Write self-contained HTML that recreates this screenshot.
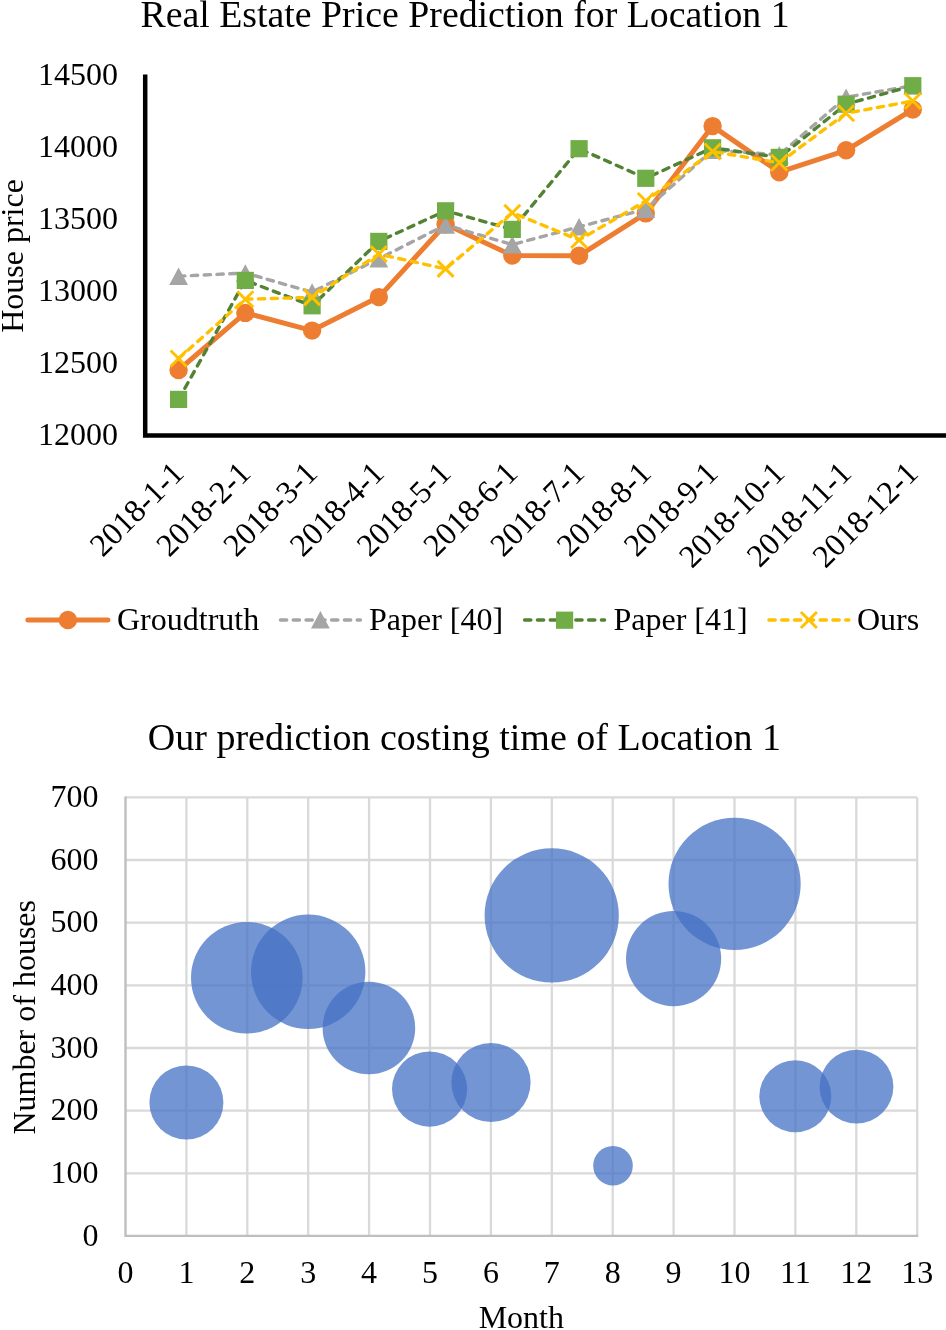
<!DOCTYPE html>
<html lang="en"><head><meta charset="utf-8"><title>Real Estate Price Prediction for Location 1</title>
<style>html,body{margin:0;padding:0;background:#fff}svg{display:block}text{font-family:"Liberation Serif", "Times New Roman", serif;fill:#000}.t{font-size:37.85px}.l{font-size:32px}.dash{fill:none;stroke-width:3.4;stroke-dasharray:6.3 6.5;stroke-linecap:round;stroke-linejoin:round}.xm{fill:none;stroke:#FFC000;stroke-width:2.9}</style></head><body>
<svg width="946" height="1330" viewBox="0 0 946 1330">
<rect width="946" height="1330" fill="#fff"/>
<text class="t" x="465" y="26.6" text-anchor="middle">Real Estate Price Prediction for Location 1</text>
<text class="l" x="118" y="85.3" text-anchor="end">14500</text>
<text class="l" x="118" y="157.3" text-anchor="end">14000</text>
<text class="l" x="118" y="229.3" text-anchor="end">13500</text>
<text class="l" x="118" y="301.3" text-anchor="end">13000</text>
<text class="l" x="118" y="373.3" text-anchor="end">12500</text>
<text class="l" x="118" y="445.3" text-anchor="end">12000</text>
<text class="l" transform="translate(22.6,256) rotate(-90)" text-anchor="middle">House price</text>
<polyline points="178.6,370.0 245.3,312.9 312.1,330.6 378.8,297.1 445.6,224.2 512.3,255.5 579.1,255.7 645.8,213.4 712.6,126.1 779.3,172.2 846.1,150.3 912.8,109.5" fill="none" stroke="#ED7D31" stroke-width="5" stroke-linecap="round" stroke-linejoin="round"/>
<g fill="#ED7D31"><circle cx="178.6" cy="370.0" r="9.2"/><circle cx="245.3" cy="312.9" r="9.2"/><circle cx="312.1" cy="330.6" r="9.2"/><circle cx="378.8" cy="297.1" r="9.2"/><circle cx="445.6" cy="224.2" r="9.2"/><circle cx="512.3" cy="255.5" r="9.2"/><circle cx="579.1" cy="255.7" r="9.2"/><circle cx="645.8" cy="213.4" r="9.2"/><circle cx="712.6" cy="126.1" r="9.2"/><circle cx="779.3" cy="172.2" r="9.2"/><circle cx="846.1" cy="150.3" r="9.2"/><circle cx="912.8" cy="109.5" r="9.2"/></g>
<polyline class="dash" points="178.6,276.2 245.3,273.0 312.1,292.1 378.8,258.7 445.6,225.0 512.3,244.6 579.1,226.8 645.8,209.2 712.6,150.1 779.3,154.9 846.1,97.2 912.8,85.6" stroke="#A5A5A5"/>
<g fill="#A5A5A5"><polygon points="178.6,267.4 169.2,285.0 188.0,285.0"/><polygon points="245.3,264.2 235.9,281.8 254.7,281.8"/><polygon points="312.1,283.3 302.7,300.9 321.5,300.9"/><polygon points="378.8,249.9 369.4,267.5 388.2,267.5"/><polygon points="445.6,216.2 436.2,233.8 455.0,233.8"/><polygon points="512.3,235.8 502.9,253.4 521.7,253.4"/><polygon points="579.1,218.0 569.7,235.6 588.5,235.6"/><polygon points="645.8,200.4 636.4,218.0 655.2,218.0"/><polygon points="712.6,141.3 703.2,158.9 722.0,158.9"/><polygon points="779.3,146.1 769.9,163.7 788.7,163.7"/><polygon points="846.1,88.4 836.7,106.0 855.5,106.0"/><polygon points="912.8,76.8 903.4,94.4 922.2,94.4"/></g>
<polyline class="dash" points="178.6,399.4 245.3,280.4 312.1,305.8 378.8,241.4 445.6,210.8 512.3,229.4 579.1,148.7 645.8,178.3 712.6,147.8 779.3,157.4 846.1,104.2 912.8,85.7" stroke="#548235"/>
<g fill="#70AD47"><rect x="170.0" y="390.8" width="17.2" height="17.2"/><rect x="236.7" y="271.8" width="17.2" height="17.2"/><rect x="303.5" y="297.2" width="17.2" height="17.2"/><rect x="370.2" y="232.8" width="17.2" height="17.2"/><rect x="437.0" y="202.2" width="17.2" height="17.2"/><rect x="503.7" y="220.8" width="17.2" height="17.2"/><rect x="570.5" y="140.1" width="17.2" height="17.2"/><rect x="637.2" y="169.7" width="17.2" height="17.2"/><rect x="704.0" y="139.2" width="17.2" height="17.2"/><rect x="770.7" y="148.8" width="17.2" height="17.2"/><rect x="837.5" y="95.6" width="17.2" height="17.2"/><rect x="904.2" y="77.1" width="17.2" height="17.2"/></g>
<polyline class="dash" points="178.6,358.5 245.3,299.2 312.1,297.4 378.8,254.1 445.6,268.9 512.3,212.7 579.1,240.0 645.8,201.0 712.6,151.5 779.3,162.8 846.1,113.3 912.8,101.0" stroke="#FFC000"/>
<g class="xm"><path d="M170.6 350.5L186.6 366.5M170.6 366.5L186.6 350.5"/><path d="M237.3 291.2L253.3 307.2M237.3 307.2L253.3 291.2"/><path d="M304.1 289.4L320.1 305.4M304.1 305.4L320.1 289.4"/><path d="M370.8 246.1L386.8 262.1M370.8 262.1L386.8 246.1"/><path d="M437.6 260.9L453.6 276.9M437.6 276.9L453.6 260.9"/><path d="M504.3 204.7L520.3 220.7M504.3 220.7L520.3 204.7"/><path d="M571.1 232.0L587.1 248.0M571.1 248.0L587.1 232.0"/><path d="M637.8 193.0L653.8 209.0M637.8 209.0L653.8 193.0"/><path d="M704.6 143.5L720.6 159.5M704.6 159.5L720.6 143.5"/><path d="M771.3 154.8L787.3 170.8M771.3 170.8L787.3 154.8"/><path d="M838.1 105.3L854.1 121.3M838.1 121.3L854.1 105.3"/><path d="M904.8 93.0L920.8 109.0M904.8 109.0L920.8 93.0"/></g>
<path d="M145.2 74.6V435.4H946" fill="none" stroke="#000" stroke-width="4.5" stroke-linejoin="miter"/>
<text class="l" transform="translate(185.6,475.0) rotate(-45)" text-anchor="end">2018-1-1</text>
<text class="l" transform="translate(252.3,475.0) rotate(-45)" text-anchor="end">2018-2-1</text>
<text class="l" transform="translate(319.1,475.0) rotate(-45)" text-anchor="end">2018-3-1</text>
<text class="l" transform="translate(385.8,475.0) rotate(-45)" text-anchor="end">2018-4-1</text>
<text class="l" transform="translate(452.6,475.0) rotate(-45)" text-anchor="end">2018-5-1</text>
<text class="l" transform="translate(519.3,475.0) rotate(-45)" text-anchor="end">2018-6-1</text>
<text class="l" transform="translate(586.1,475.0) rotate(-45)" text-anchor="end">2018-7-1</text>
<text class="l" transform="translate(652.8,475.0) rotate(-45)" text-anchor="end">2018-8-1</text>
<text class="l" transform="translate(719.6,475.0) rotate(-45)" text-anchor="end">2018-9-1</text>
<text class="l" transform="translate(786.3,475.0) rotate(-45)" text-anchor="end">2018-10-1</text>
<text class="l" transform="translate(853.1,475.0) rotate(-45)" text-anchor="end">2018-11-1</text>
<text class="l" transform="translate(919.8,475.0) rotate(-45)" text-anchor="end">2018-12-1</text>
<path d="M27.9 620H107.9" stroke="#ED7D31" stroke-width="5" stroke-linecap="round" fill="none"/><g fill="#ED7D31"><circle cx="67.9" cy="620.0" r="9.2"/></g>
<text class="l" x="117" y="629.8">Groudtruth</text>
<path class="dash" d="M280.4 620H360.4" stroke="#A5A5A5"/><g fill="#A5A5A5"><polygon points="320.4,610.9 311.0,628.5 329.8,628.5"/></g>
<text class="l" x="369" y="629.8">Paper [40]</text>
<path class="dash" d="M524.6 620H604.6" stroke="#548235"/><g fill="#70AD47"><rect x="556.0" y="611.6" width="17.2" height="17.2"/></g>
<text class="l" x="613.5" y="629.8">Paper [41]</text>
<path class="dash" d="M768.9 620H848.9" stroke="#FFC000"/><g class="xm"><path d="M800.9 612.0L816.9 628.0M800.9 628.0L816.9 612.0"/></g>
<text class="l" x="857" y="629.8">Ours</text>
<text class="t" style="font-size:38px" x="464.4" y="749.5" text-anchor="middle">Our prediction costing time of Location 1</text>
<path d="M125.5 797.4H917.2M125.5 860.0H917.2M125.5 922.7H917.2M125.5 985.3H917.2M125.5 1048.0H917.2M125.5 1110.6H917.2M125.5 1173.3H917.2M186.4 797.4V1235.9M247.3 797.4V1235.9M308.2 797.4V1235.9M369.1 797.4V1235.9M430.0 797.4V1235.9M490.9 797.4V1235.9M551.8 797.4V1235.9M612.7 797.4V1235.9M673.6 797.4V1235.9M734.5 797.4V1235.9M795.4 797.4V1235.9M856.3 797.4V1235.9M917.2 797.4V1235.9" fill="none" stroke="#D9D9D9" stroke-width="2.3"/>
<path d="M125.5 796.4V1235.9H918.2" fill="none" stroke="#BFBFBF" stroke-width="2.4"/>
<g fill="#4472C4" fill-opacity="0.75"><circle cx="186.4" cy="1102.5" r="37.0"/><circle cx="246.8" cy="977.7" r="55.8"/><circle cx="308.2" cy="971.8" r="57.2"/><circle cx="368.9" cy="1028.0" r="46.3"/><circle cx="429.6" cy="1089.1" r="37.6"/><circle cx="491.0" cy="1082.5" r="39.6"/><circle cx="551.7" cy="915.4" r="67.1"/><circle cx="613.0" cy="1165.7" r="19.8"/><circle cx="673.6" cy="958.6" r="47.6"/><circle cx="734.6" cy="883.9" r="66.1"/><circle cx="795.3" cy="1096.2" r="36.0"/><circle cx="856.5" cy="1086.6" r="36.9"/></g>
<text class="l" x="98.5" y="1245.6" text-anchor="end">0</text>
<text class="l" x="98.5" y="1183.0" text-anchor="end">100</text>
<text class="l" x="98.5" y="1120.3" text-anchor="end">200</text>
<text class="l" x="98.5" y="1057.7" text-anchor="end">300</text>
<text class="l" x="98.5" y="995.0" text-anchor="end">400</text>
<text class="l" x="98.5" y="932.4" text-anchor="end">500</text>
<text class="l" x="98.5" y="869.7" text-anchor="end">600</text>
<text class="l" x="98.5" y="807.1" text-anchor="end">700</text>
<text class="l" x="125.5" y="1283.3" text-anchor="middle">0</text>
<text class="l" x="186.4" y="1283.3" text-anchor="middle">1</text>
<text class="l" x="247.3" y="1283.3" text-anchor="middle">2</text>
<text class="l" x="308.2" y="1283.3" text-anchor="middle">3</text>
<text class="l" x="369.1" y="1283.3" text-anchor="middle">4</text>
<text class="l" x="430.0" y="1283.3" text-anchor="middle">5</text>
<text class="l" x="490.9" y="1283.3" text-anchor="middle">6</text>
<text class="l" x="551.8" y="1283.3" text-anchor="middle">7</text>
<text class="l" x="612.7" y="1283.3" text-anchor="middle">8</text>
<text class="l" x="673.6" y="1283.3" text-anchor="middle">9</text>
<text class="l" x="734.5" y="1283.3" text-anchor="middle">10</text>
<text class="l" x="795.4" y="1283.3" text-anchor="middle">11</text>
<text class="l" x="856.3" y="1283.3" text-anchor="middle">12</text>
<text class="l" x="917.2" y="1283.3" text-anchor="middle">13</text>
<text class="l" transform="translate(34.9,1017.3) rotate(-90)" text-anchor="middle">Number of houses</text>
<text class="l" x="521.3" y="1328.4" text-anchor="middle">Month</text>
</svg></body></html>
